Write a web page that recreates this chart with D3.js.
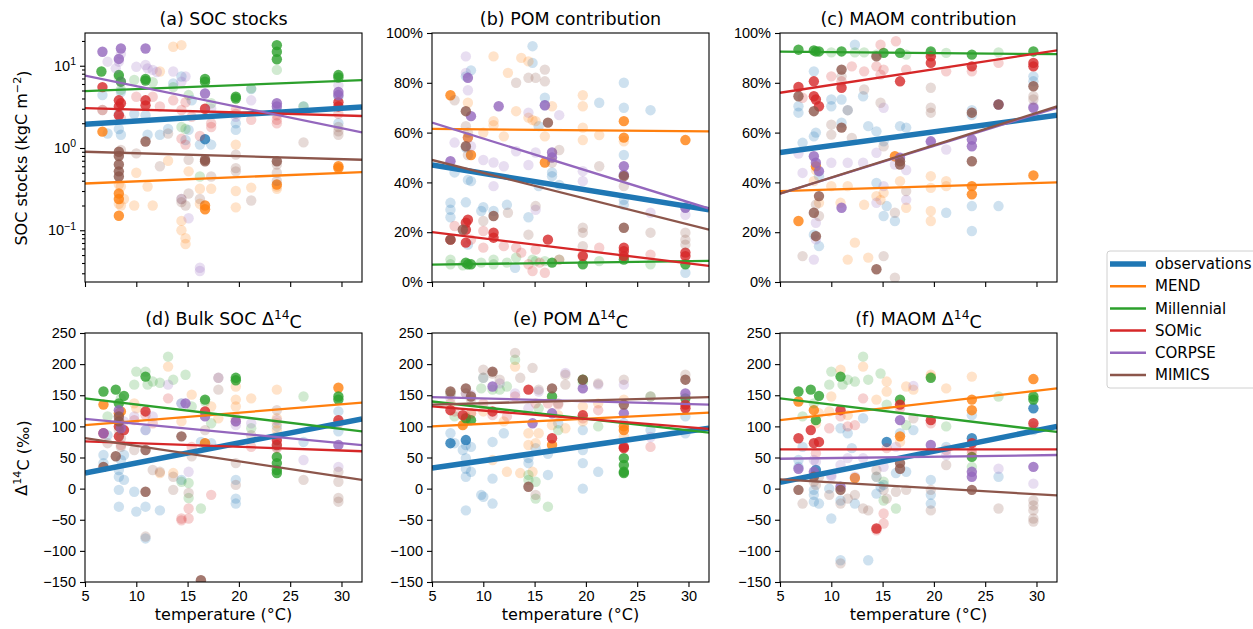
<!DOCTYPE html>
<html>
<head>
<meta charset="utf-8">
<script src="https://cdn.jsdelivr.net/npm/d3@7"></script>
<style>
    body { margin: 0; background: #fff; }
    svg { font-family: "DejaVu Sans", sans-serif; }
    .tick text { font-size: 14.5px; fill: #000; }
    .tick line { stroke: #000; stroke-width: 1.1px; }
    .domain { display: none; }
</style>
</head>
<body>
<svg id="chart" width="1253" height="629"></svg>
<script>
// series names and colours (matplotlib tab10)
var models = ["observations", "MEND", "Millennial", "SOMic", "CORPSE", "MIMICS"];
var colors = ["#1f77b4", "#ff7f0e", "#2ca02c", "#d62728", "#9467bd", "#8c564b"];

var tempTicks = [5, 10, 15, 20, 25, 30];
var tempDomain = [5, 32];
var trendTemps = [5, 32];          // temperatures at which the fitted lines start / end
var socDomain = [0.0235, 25];
var socTicks = [0.1, 1, 10];
var pctTicks = [0, 20, 40, 60, 80, 100];
var d14cTicks = [-150, -100, -50, 0, 50, 100, 150, 200, 250];

// points: [temperature, value, 1 = opaque marker]
var socStocks = {
    observations: [[6.7,4.4],[7.2,1.5],[8.3,2.6],[8.3,1.7],[8.5,1.45],[8.5,4.8],[9.8,2.6],[10.9,2.5],[11.1,1.45],[12.3,1.45],[13.1,1.7],[13.6,6.1],[14.4,7.4],[14.8,1.25],[15.1,1.66],[15.4,3.8],[16.2,1.1],[16.7,1.28,1],[17.3,1.1],[19.7,2.0],[19.7,1.66],[21.2,5.2],[23.7,2.9],[26.3,3.2],[29.7,4.2],[29.7,2.0]],
    MEND: [[6.7,1.58,1],[8.3,0.36],[8.3,0.28,1],[8.3,0.24,1],[8.3,0.21],[8.3,0.15,1],[8.5,0.2],[8.8,0.24],[8.5,0.34],[9.8,0.2],[10.0,0.5],[11.1,0.34],[11.6,0.2],[12.3,8.5],[13.1,0.7],[13.6,17],[14.4,17.8],[14.4,0.13],[14.4,0.1],[14.8,0.08],[14.8,0.068],[15.1,0.52],[16.2,0.32],[16.2,0.21],[16.7,0.2,1],[16.7,0.18,1],[17.3,0.32],[19.7,1.1],[19.7,0.3],[19.7,0.19],[21.2,0.33],[23.7,0.36,1],[23.7,0.34],[23.7,0.32],[29.7,0.6,1],[29.7,0.57,1]],
    Millennial: [[6.6,8.5,1],[8.3,7.7,1],[8.3,7.3],[8.5,6.4,1],[8.5,5.1],[9.8,6.7],[10.9,6.9,1],[10.9,6.6,1],[11.6,6.3],[13.6,5.5],[14.4,1.8],[14.8,1.7],[15.1,4.4],[16.2,0.45],[16.7,6.9,1],[16.7,6.4,1],[17.3,3.5],[19.7,4.2,1],[19.7,4.0,1],[21.2,5.3],[23.7,17.8,1],[23.7,14.8,1],[23.7,12,1],[23.7,8.9],[26.3,3.2],[29.7,7.7,1],[29.7,7.2,1]],
    SOMic: [[6.7,5.5,1],[6.7,2.9],[8.3,3.8,1],[8.3,3.2,1],[8.3,2.5,1],[8.5,3.5,1],[8.5,2.3],[10.0,4.2],[10.9,3.8,1],[10.9,3.3,1],[11.6,4.2],[12.3,3.2],[13.6,3.8],[14.4,2.9],[14.4,1.3],[14.8,3.6],[14.8,1.1],[15.4,2.4],[16.2,1.4],[16.7,3.0,1],[17.3,2.0],[17.3,1.8],[19.7,2.9],[19.7,2.6],[21.2,2.2],[23.7,2.5],[23.7,2.2],[23.7,2.0],[29.7,3.6,1],[29.7,3.2,1],[29.7,2.6]],
    CORPSE: [[6.7,14.8,1],[7.2,11.2],[8.0,9.3],[8.3,12.1,1],[8.3,11.2],[8.5,16.2,1],[8.5,14],[8.5,6.4],[10.9,16.2,1],[10.0,9.7],[10.9,10.2],[11.1,9.3],[11.6,8.9],[12.0,8.4],[13.6,8.5],[14.4,6.4],[14.4,0.24],[14.8,7.4],[15.1,0.14],[16.2,0.035],[16.2,0.032],[16.7,4.6,1],[17.3,3.0],[19.7,2.4],[21.2,3.8],[23.7,3.5,1],[23.7,3.2,1],[29.7,5.8],[29.7,4.8,1],[29.7,4.4,1]],
    MIMICS: [[6.7,2.9],[8.3,0.9,1],[8.3,0.8,1],[8.3,0.63,1],[8.3,0.52,1],[8.3,0.45,1],[8.5,0.95],[10.0,0.86],[10.9,1.2,1],[12.3,0.6],[13.1,1.5],[14.4,0.24],[14.4,0.22],[14.8,0.2],[15.1,0.28],[15.1,0.72],[16.2,0.24],[16.7,0.72,1],[16.7,0.69,1],[17.3,0.45],[19.7,0.83],[19.7,0.57],[19.7,0.52],[21.2,0.23],[23.7,0.69,1],[23.7,0.63],[23.7,0.5],[23.7,0.4],[26.3,1.17],[29.7,1.8],[29.7,1.6],[29.7,1.45]]
};
var pomShare = {
    observations: [[6.8,31.8],[6.8,29],[6.8,26],[7.2,44],[8.3,32],[8.3,54],[8.3,82.6],[8.5,41],[8.8,40.5],[8.8,85],[8.5,15],[9.8,28.5],[10.0,30],[11.0,28.5],[12.3,31],[13.1,5.7],[14.4,26],[14.8,94.7],[14.8,88],[15.4,38.5],[15.4,62.6],[16.0,74],[16.0,71],[16.7,44],[16.7,42.5],[17.4,39],[21.3,72],[23.7,80],[23.7,70],[23.7,51],[23.7,33],[23.7,31],[26.3,69],[29.7,3.7],[29.7,30]],
    MEND: [[6.8,75,1],[8.5,58,1],[8.5,72],[8.8,51,1],[10.0,60],[11.0,90.6],[11.0,64.6],[11.0,63],[12.4,84],[12.0,58.5],[13.2,68.6],[13.7,90],[14.4,88.6],[14.4,66],[14.8,65],[15.1,64.6],[16.0,48,1],[16.0,58.5],[16.7,70.6],[19.7,75],[19.7,70.6],[19.7,62],[19.7,57],[21.3,59],[23.7,64.6,1],[23.7,58,1],[23.7,56.5],[29.7,57,1]],
    Millennial: [[6.8,7.1],[6.8,9],[8.0,6.7],[8.3,7.8,1],[8.5,7.1,1],[8.8,7.1,1],[9.8,7.8],[11.0,7.1],[11.0,9],[12.3,7.8],[13.2,9.8],[14.8,9],[15.1,8.4],[16.0,8.4],[16.7,7.8,1],[17.4,9],[19.7,7.1,1],[21.3,8.4],[23.7,9,1],[26.3,7.1],[29.7,7.1,1]],
    SOMic: [[6.8,17,1],[7.2,22.5],[8.3,23.8,1],[8.3,21,1],[8.5,25,1],[8.3,15.8,1],[8.8,17],[10.0,20.5],[10.0,13.8],[11.0,19.8,1],[11.0,17.8,1],[12.0,14.4],[13.2,13.8],[13.7,11.8],[14.4,7.1],[14.8,4.4],[15.5,7.8],[15.1,13],[16.0,3.7],[16.3,17,1],[17.4,9],[19.7,10.4,1],[19.7,11],[21.3,13.8],[23.7,13.8,1],[23.7,12.4,1],[23.7,10.4,1],[26.3,11],[29.7,11.8,1],[29.7,10.4,1]],
    CORPSE: [[6.8,48.5,1],[7.2,56],[8.3,90.6],[8.3,84],[8.5,82,1],[8.5,77],[8.8,66.6,1],[8.5,58],[8.8,54.5],[10.0,49],[11.0,48],[11.0,38.5],[11.5,70.6,1],[12.0,46.5],[13.2,52.5],[14.4,68],[14.4,47],[15.1,29],[15.1,52],[16.0,71,1],[16.7,52,1],[16.7,50,1],[17.4,67],[19.7,44.5],[19.7,40.5],[23.7,46.5,1],[23.7,43,1],[26.3,27.8],[29.7,29.8,1],[29.7,27]],
    MIMICS: [[6.8,17,1],[7.2,73],[8.3,68.6,1],[8.3,62.6],[8.3,54.5,1],[8.5,60],[8.5,51],[8.0,21,1],[10.0,24.5],[11.0,26.5,1],[12.4,27.8],[13.2,80],[14.4,82],[14.4,19],[15.1,82],[15.1,30.5],[16.0,85.3],[16.0,80.6],[16.3,64,1],[16.7,48],[17.4,53],[19.7,21.8],[19.7,19.8],[19.7,14.4],[21.3,46.5],[23.7,42.5,1],[23.7,38.5],[23.7,21.8,1],[26.3,19.8],[29.7,19.8],[29.7,17],[29.7,15]]
};
var maomShare = {
    observations: [[6.8,70.6],[6.8,68],[7.2,55.9],[8.3,84.6],[8.3,58.5],[8.5,60],[8.3,19],[8.8,14.4],[8.8,42.5],[10.0,73.3],[10.0,70.6],[11.0,73.3],[11.0,64],[11.6,69],[12.3,95.3],[13.1,74.6],[13.6,62.6],[14.4,60.5],[14.4,39.8],[15.1,56.5],[15.1,26.5],[15.4,30.5],[16.2,24.5],[16.7,62.6],[17.3,62],[19.7,92],[21.2,27.8],[23.7,69],[23.7,67],[23.7,30.5],[23.7,20.5],[26.3,30.5],[29.7,82.6],[29.7,80.6]],
    MEND: [[6.8,24.5,1],[8.3,40.5],[8.5,46.5,1],[8.5,45],[8.8,31.8],[10.0,38.5],[10.9,31.8],[11.6,38.5],[11.6,9],[12.3,15.8],[13.2,31],[13.6,9.8],[14.4,34.5],[14.8,33],[15.1,35.8],[16.2,50.5,1],[16.7,40.5],[17.3,29.8],[19.7,42.5],[19.7,37.8],[19.7,28.5],[19.7,24.5],[21.2,40.5],[21.2,38.5],[23.7,38.5,1],[23.7,35.2,1],[29.7,42.8,1]],
    Millennial: [[6.8,93.3,1],[8.3,93,1],[8.5,92.6,1],[8.8,92.6,1],[10.0,92.2],[11.0,92.6,1],[12.3,92.2],[13.2,92.2],[14.4,91.3],[15.1,92,1],[16.7,92,1],[17.3,91.3],[19.7,92.6,1],[21.2,92],[23.7,91.3,1],[26.3,92.2],[29.7,92.6,1]],
    SOMic: [[6.8,78.3,1],[7.2,74],[8.3,80.6,1],[8.3,74.6,1],[8.5,73.3,1],[8.8,70.6,1],[10.0,82.6],[11.0,78,1],[11.0,80.6],[12.0,86.6],[13.2,84.6],[14.4,86.6],[14.8,95.3],[14.8,83.3],[15.1,85.3],[16.3,96.7],[16.7,80.6,1],[17.3,85.3],[19.7,90.6,1],[19.7,88,1],[21.2,84.6],[23.7,86.6,1],[23.7,84.6],[26.3,88],[29.7,88,1],[29.7,86.6,1]],
    CORPSE: [[6.8,51.6],[7.2,43.8],[8.3,50.5,1],[8.5,47.9,1],[8.5,23.8],[8.5,17.1],[8.8,44.5,1],[8.3,9],[10.0,47.9],[11.0,29.8,1],[11.6,47.9],[13.1,47.9],[14.4,31.8],[14.4,51.9],[15.1,70],[15.1,38.5],[16.2,47.2],[16.7,49.9,1],[17.3,45],[17.3,33],[19.7,56.5,1],[19.7,55.9],[21.2,53.2],[23.7,54.5,1],[23.7,57.2,1],[26.3,71.3,1],[29.7,70,1],[29.7,70.6]],
    MIMICS: [[6.8,74.6,1],[7.2,10.4],[8.3,68.6,1],[8.3,27.8,1],[8.5,18.4,1],[8.5,31.1],[8.8,34.5,1],[8.8,26.5],[10.0,63.2],[10.0,59.2],[11.0,85.3,1],[11.0,82.6],[11.0,62,1],[11.6,69],[12.0,57.9],[13.2,77.3],[14.4,90.6,1],[14.4,5.1,1],[14.8,72],[15.1,54.5],[15.1,10.4],[16.2,27.8],[16.2,1.7],[16.7,48.5,1],[16.7,47.2,1],[17.3,36.5],[19.7,78],[19.7,70],[19.7,68],[23.7,68,1],[23.7,48.5,1],[26.3,71.3,1],[29.7,78.6,1],[29.7,74.6],[29.7,73.3]]
};
var bulkD14c = {
    observations: [[6.8,54],[6.8,41],[7.2,86],[8.3,30],[8.3,19],[8.3,-2],[8.3,-29],[8.5,46],[8.8,54],[8.8,14],[9.8,-5],[10.0,-37],[10.9,-29],[10.9,-80],[10.9,94],[12.3,-35],[14.4,137],[14.4,14],[16.3,75],[16.7,73],[17.3,73],[19.7,14],[19.7,-24],[19.7,-16],[23.7,84],[23.7,100],[26.3,75],[29.7,124],[29.7,92]],
    MEND: [[6.8,135,1],[8.3,121,1],[8.5,124,1],[8.5,105],[9.8,137],[10.0,129],[12.3,25],[13.1,196],[13.6,25],[14.4,108],[15.4,151],[16.7,73,1],[17.3,132],[18.0,113],[19.7,164],[19.7,143],[19.7,132],[21.2,145],[23.7,159],[23.7,113],[23.7,105],[23.7,94],[29.7,162,1]],
    Millennial: [[6.8,156,1],[7.2,116],[8.0,159,1],[8.3,137,1],[8.8,149,1],[8.5,145],[9.8,167],[10.0,188],[10.9,180,1],[10.9,188],[11.1,167],[11.6,172],[12.3,170],[13.1,212],[13.6,175],[14.8,183],[14.4,11],[15.1,9],[15.1,-15],[15.4,132],[16.3,-32],[16.7,143,1],[16.7,140],[17.3,105],[19.7,178,1],[19.7,174,1],[21.2,97],[23.7,51,1],[23.7,41,1],[23.7,30,1],[23.7,25,1],[26.3,148],[29.7,148,1],[29.7,143,1]],
    SOMic: [[6.8,89,1],[8.3,100,1],[8.3,84,1],[8.5,70],[8.8,94,1],[9.8,110],[10.9,124,1],[10.9,118],[11.6,105],[13.1,145],[14.4,-48],[14.4,-51],[15.1,-32],[15.1,-48],[15.4,67],[16.7,124,1],[17.3,-10],[19.7,113],[19.7,108],[21.2,67],[23.7,78,1],[23.7,70,1],[23.7,65],[29.7,110,1],[29.7,105]],
    CORPSE: [[6.8,89,1],[8.3,126,1],[8.3,113],[8.5,97,1],[8.8,108],[9.8,116],[10.9,94],[11.6,116],[13.1,167],[14.4,137],[14.8,137,1],[15.1,27],[16.7,116,1],[18.0,178],[19.7,108,1],[19.7,102],[21.2,105],[23.7,110],[26.3,46],[29.7,70,1],[29.7,35]],
    MIMICS: [[6.8,35,1],[7.2,73],[8.0,52,1],[8.3,116,1],[8.3,108,1],[8.3,94],[8.5,81],[8.5,67],[9.8,62],[10.9,62,1],[10.9,-5,1],[10.9,-77],[11.6,30],[12.3,27],[13.6,19],[14.4,84,1],[13.6,-2],[15.1,-7],[15.4,52],[16.3,-147,1],[16.7,94],[18.0,178],[18.0,159],[19.7,41],[19.7,6],[21.2,86],[23.7,126],[23.7,67],[26.3,14],[29.7,11],[29.7,27],[29.7,-15],[29.7,-21]]
};
var pomD14c = {
    observations: [[6.8,89],[6.8,73,1],[7.2,73],[8.0,62],[8.3,78,1],[8.3,70],[8.3,49],[8.3,32],[8.3,19],[8.3,-35],[8.8,67],[8.8,27],[9.8,-10],[10.0,-13],[10.9,75],[10.9,16],[10.9,-24],[12.0,89],[14.4,49],[14.4,41],[15.1,65],[16.3,56],[16.3,22],[17.3,105],[19.7,62],[19.7,41],[19.7,0],[19.7,94],[21.2,27],[23.7,105],[26.3,94],[29.7,116],[29.7,89]],
    MEND: [[6.8,137],[8.0,102,1],[8.3,108],[8.8,121],[10.0,124],[10.9,46],[12.0,108],[12.3,27],[13.1,196],[13.6,25],[14.4,89],[14.4,70],[14.8,27],[15.1,73],[15.4,89],[16.7,70,1],[16.7,102],[17.3,118],[18.0,97],[19.7,132],[19.7,108],[21.2,137],[23.7,143],[23.7,100,1],[23.7,94,1],[23.7,84],[29.7,132]],
    Millennial: [[6.8,153],[7.2,116],[8.3,113,1],[8.8,110,1],[9.8,161],[10.0,178],[10.9,159],[11.6,159],[12.3,164],[13.1,207],[14.4,22],[14.4,14],[15.1,11],[15.1,-16],[15.4,129],[16.3,-29],[16.7,148,1],[17.3,94],[19.7,175,1],[19.7,170],[21.2,100],[23.7,49,1],[23.7,38,1],[23.7,27,1],[23.7,25,1],[26.3,148],[29.7,145,1]],
    SOMic: [[6.8,126,1],[7.2,124],[8.0,118,1],[8.3,116],[8.8,121],[10.0,137],[10.9,124,1],[10.9,118],[12.3,116],[13.1,148],[14.4,159,1],[15.1,137],[16.3,137],[16.7,81,1],[17.3,135],[19.7,118,1],[19.7,113],[21.2,126],[23.7,67,1],[23.7,65,1],[26.3,67],[29.7,135,1],[29.7,129,1]],
    CORPSE: [[6.8,145],[8.3,153],[8.8,151],[10.0,178],[10.9,164,1],[11.6,169],[13.1,153],[14.4,129],[14.8,105,1],[15.4,156],[16.7,121,1],[18.0,186],[19.7,161,1],[21.2,167],[23.7,167],[23.7,121,1],[26.3,83],[29.7,153,1],[29.7,148]],
    MIMICS: [[6.8,156,1],[6.8,151],[8.3,161,1],[8.3,153],[8.8,148,1],[8.8,143],[10.0,191],[10.9,188,1],[10.9,185],[11.6,175],[13.1,218],[13.6,178],[14.4,3,1],[14.8,194],[15.1,-10],[15.4,159],[16.7,161,1],[17.3,137],[18.0,183],[18.0,167],[19.7,175,1],[21.2,169],[23.7,175],[23.7,135,1],[26.3,148],[29.7,183],[29.7,175,1]]
};
var maomD14c = {
    observations: [[6.8,46],[6.8,35],[7.2,67],[8.3,-2],[8.3,-10],[8.3,-21],[8.5,30,1],[8.5,25],[8.8,-24],[9.8,0],[10.0,-48],[10.9,97],[10.9,-19],[10.9,-115],[11.6,89],[12.0,65],[12.3,-24],[13.1,113],[13.6,-115],[14.4,-8],[14.8,3],[15.1,6],[15.4,75,1],[16.3,25],[16.7,89],[17.3,27],[18.0,94],[19.7,14],[19.7,-10],[19.7,-24],[21.2,67],[23.7,118],[23.7,81,1],[26.3,19],[29.7,129,1],[29.7,94]],
    MEND: [[6.8,140,1],[8.3,126,1],[8.5,105],[8.8,121],[9.8,124],[10.0,148],[10.9,191],[11.6,118],[12.3,17,1],[13.1,196],[14.4,143],[15.4,172],[15.4,156],[16.7,84,1],[16.7,75],[17.3,164],[18.0,159],[19.7,183],[19.7,180],[21.2,161],[23.7,180],[23.7,143,1],[23.7,126,1],[29.7,176,1]],
    Millennial: [[6.8,156,1],[7.2,116],[8.0,159,1],[8.3,137],[8.8,149,1],[8.5,110,1],[9.8,167],[10.0,188],[10.9,180,1],[11.1,167],[11.6,175],[12.3,172],[13.1,212],[13.6,175],[14.8,185],[14.4,19],[15.1,11],[15.1,-19],[15.4,135],[16.3,-32],[16.7,143,1],[17.3,102],[19.7,178,1],[21.2,100],[23.7,51,1],[23.7,35],[26.3,148],[29.7,148,1],[29.7,143,1]],
    SOMic: [[6.8,81,1],[8.0,94,1],[8.3,73,1],[8.5,57],[8.8,75,1],[9.8,97],[10.9,126,1],[10.9,116],[11.6,100],[12.3,102],[13.1,145],[14.4,-64,1],[14.4,-67],[15.1,-40],[15.1,-56],[15.4,65],[16.7,135,1],[16.7,129],[19.7,110,1],[19.7,105],[21.2,62],[23.7,73,1],[23.7,62],[23.7,57],[29.7,105,1],[29.7,100]],
    CORPSE: [[6.8,32,1],[8.3,46],[8.3,27,1],[8.5,43],[10.0,22],[10.0,19],[10.9,3,1],[10.9,38],[11.6,49],[12.3,19],[13.1,49],[14.4,19],[15.1,35],[16.3,67],[16.7,110,1],[18.0,165],[19.7,70,1],[21.2,54],[23.7,27,1],[23.7,19,1],[26.3,32],[29.7,35,1],[29.7,8]],
    MIMICS: [[6.8,-2,1],[7.2,-24],[8.3,19,1],[8.3,11],[8.5,6],[8.8,19],[9.8,-10],[10.9,-2,1],[10.9,-24],[10.9,-120],[11.6,-16],[12.3,-10],[13.1,-32],[13.6,-35],[14.4,30],[15.1,-2],[15.4,-16],[16.3,-5],[16.7,41,1],[16.7,32,1],[17.3,-2],[18.0,113],[19.7,-2],[19.7,-35],[21.2,38],[23.7,-2,1],[26.3,-32],[29.7,-19],[29.7,-27],[29.7,-35],[29.7,-48],[29.7,-53]]
};

// fitted lines, value at trendTemps[0] and trendTemps[1], in the order of models
var socTrend = [[1.95, 3.15], [0.37, 0.51], [4.9, 6.7], [3.05, 2.45], [7.6, 1.55], [0.9, 0.72]];
var pomTrend = [[47, 29], [61.5, 60.5], [7, 8.5], [20, 6.5], [64, 29.5], [49, 21]];
var maomTrend = [[52, 67], [36.5, 40], [92.5, 91.5], [76, 93], [35.5, 70], [35.5, 70.5]];
var bulkTrend = [[25, 112], [102, 138], [145, 92], [76, 60], [112, 70], [81, 14]];
var pomD14cTrend = [[33, 97], [100, 122], [140, 90], [132, 96], [147, 135], [135, 147]];
var maomD14cTrend = [[10, 100], [110, 161], [145, 91], [63, 63], [48, 54], [15, -11]];

var panels = [
    {title: "(a) SOC stocks", pts: socStocks, trend: socTrend, kind: "log"},
    {title: "(b) POM contribution", pts: pomShare, trend: pomTrend, kind: "pct"},
    {title: "(c) MAOM contribution", pts: maomShare, trend: maomTrend, kind: "pct"},
    {title: "(d) Bulk SOC Δ", sup: "14", after: "C", pts: bulkD14c, trend: bulkTrend, kind: "d14c"},
    {title: "(e) POM Δ", sup: "14", after: "C", pts: pomD14c, trend: pomD14cTrend, kind: "d14c"},
    {title: "(f) MAOM Δ", sup: "14", after: "C", pts: maomD14c, trend: maomD14cTrend, kind: "d14c"}
];

// layout
var lefts = [85, 432, 780], tops = [33, 333];
var plotW = 277, plotH = 249;

var svg = d3.select("#chart");

panels.forEach(function (p, i) {
    var col = i % 3, row = Math.floor(i / 3);
    var g = svg.append("g").attr("transform", "translate(" + lefts[col] + "," + tops[row] + ")");

    var x = d3.scaleLinear().domain(tempDomain).range([0, plotW]);
    var y;
    if (p.kind == "log") y = d3.scaleLog().domain(socDomain).range([plotH, 0]);
    else if (p.kind == "pct") y = d3.scaleLinear().domain([0, 100]).range([plotH, 0]);
    else y = d3.scaleLinear().domain([-150, 250]).range([plotH, 0]);

    svg.append("clipPath").attr("id", "clip" + i)
        .append("rect").attr("width", plotW).attr("height", plotH);
    var plot = g.append("g").attr("clip-path", "url(#clip" + i + ")");

    // scatter
    models.forEach(function (m, k) {
        plot.append("g").selectAll("circle")
            .data(p.pts[m])
            .join("circle")
            .attr("cx", function (d) { return x(d[0]); })
            .attr("cy", function (d) { return y(d[1]); })
            .attr("r", 5.2)
            .attr("fill", colors[k])
            .attr("fill-opacity", function (d) { return d[2] ? 0.8 : 0.22; });
    });

    // regression lines
    var line = d3.line()
        .x(function (d) { return x(d[0]); })
        .y(function (d) { return y(d[1]); });
    models.forEach(function (m, k) {
        plot.append("path")
            .datum(p.trend[k].map(function (v, j) { return [trendTemps[j], v]; }))
            .attr("d", line)
            .attr("fill", "none")
            .attr("stroke", colors[k])
            .attr("stroke-width", k == 0 ? 5.5 : 2.3);
    });

    // x axis
    var xAxis = d3.axisBottom(x).tickValues(tempTicks).tickSizeOuter(0).tickSize(5).tickPadding(4);
    if (row == 0) xAxis.tickFormat("");
    g.append("g").attr("transform", "translate(0," + plotH + ")").call(xAxis);

    // y axis
    if (p.kind == "log") {
        var minor = [];
        [0.01, 0.1, 1, 10].forEach(function (dec) {
            for (var n = 2; n <= 9; n++) {
                var v = dec * n;
                if (v >= socDomain[0] && v <= socDomain[1]) minor.push(v);
            }
        });
        g.append("g").call(d3.axisLeft(y).tickValues(minor).tickFormat("").tickSize(3).tickSizeOuter(0));
        var ya = g.append("g").call(d3.axisLeft(y).tickValues(socTicks).tickFormat("").tickSize(5).tickSizeOuter(0).tickPadding(4));
        ya.selectAll(".tick text").each(function (d) {
            var t = d3.select(this);
            var e = Math.round(Math.log10(d));
            t.text("10");
            t.append("tspan").attr("dy", "-0.55em").attr("font-size", "0.72em")
                .text(e < 0 ? "\u2212" + (-e) : e);
        });
    } else if (p.kind == "pct") {
        g.append("g").call(d3.axisLeft(y).tickValues(pctTicks)
            .tickFormat(function (d) { return d + "%"; }).tickSize(5).tickSizeOuter(0).tickPadding(4));
    } else {
        g.append("g").call(d3.axisLeft(y).tickValues(d14cTicks).tickSize(5).tickSizeOuter(0).tickPadding(4));
    }

    // frame
    g.append("rect").attr("width", plotW).attr("height", plotH)
        .attr("fill", "none").attr("stroke", "#000").attr("stroke-width", 1.1);

    // title
    var tt = g.append("text").attr("x", plotW / 2).attr("y", -8)
        .attr("text-anchor", "middle").attr("font-size", "17.5px").text(p.title);
    if (p.sup) {
        tt.append("tspan").attr("dy", "-0.5em").attr("font-size", "0.7em").text(p.sup);
        tt.append("tspan").attr("dy", "0.5em").text(p.after);
    }

    // x label
    if (row == 1) {
        g.append("text").attr("x", plotW / 2).attr("y", plotH + 38)
            .attr("text-anchor", "middle").attr("font-size", "16px").text("temperature (°C)");
    }
});

// y labels
var yl1 = svg.append("text").attr("transform", "translate(27,158) rotate(-90)")
    .attr("text-anchor", "middle").attr("font-size", "16px").text("SOC stocks (kgC m");
yl1.append("tspan").attr("dy", "-0.5em").attr("font-size", "0.7em").text("\u22122");
yl1.append("tspan").attr("dy", "0.5em").text(")");

var yl2 = svg.append("text").attr("transform", "translate(27,458) rotate(-90)")
    .attr("text-anchor", "middle").attr("font-size", "16px").text("Δ");
yl2.append("tspan").attr("dy", "-0.5em").attr("font-size", "0.7em").text("14");
yl2.append("tspan").attr("dy", "0.5em").text("C (‰)");

// legend
var lg = svg.append("g").attr("transform", "translate(1107,251)");
lg.append("rect").attr("width", 160).attr("height", 137).attr("rx", 3)
    .attr("fill", "#fff").attr("stroke", "#d0d0d0");
models.forEach(function (m, k) {
    var yy = 13 + k * 22.2;
    lg.append("line").attr("x1", 3).attr("x2", 39).attr("y1", yy).attr("y2", yy)
        .attr("stroke", colors[k]).attr("stroke-width", k == 0 ? 5.5 : 2.5);
    lg.append("text").attr("x", 48).attr("y", yy).attr("dy", "0.35em")
        .attr("font-size", "15px").text(m);
});
</script>
</body>
</html>
